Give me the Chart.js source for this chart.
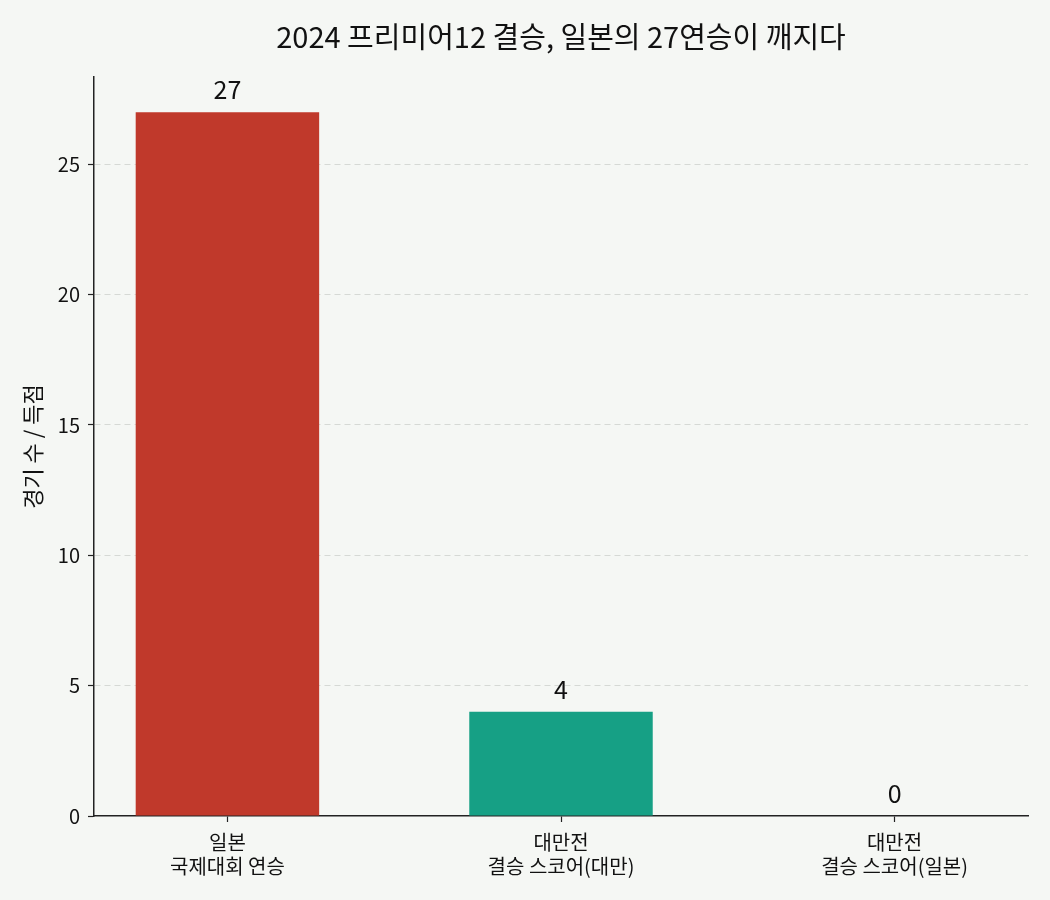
<!DOCTYPE html>
<html>
<head>
<meta charset="utf-8">
<script src="https://cdn.jsdelivr.net/npm/chart.js@4"></script>
<style>
  html, body { margin: 0; padding: 0; background: #f5f7f4; }
  #wrap { width: 1050px; height: 900px; }
</style>
</head>
<body>
<div id="wrap"><canvas id="chart"></canvas></div>
<script>
const categories = [
    ['일본', '국제대회 연승'],
    ['대만전', '결승 스코어(대만)'],
    ['대만전', '결승 스코어(일본)']
];
const values = [27, 4, 0];
const barColors = ['#c0392b', '#16a085', '#2c3e50'];
const yTicks = [0, 5, 10, 15, 20, 25];
const chartTitle = '2024 프리미어12 결승, 일본의 27연승이 깨지다';

const FONT = '"Noto Sans CJK KR", "Noto Sans", sans-serif';

// paint the page background
const bgPlugin = {
    id: 'bg',
    beforeDraw(chart) {
        const ctx = chart.ctx;
        ctx.save();
        ctx.fillStyle = '#f5f7f4';
        ctx.fillRect(0, 0, chart.width, chart.height);
        ctx.restore();
    }
};

// title centred over the plot area (like matplotlib)
const axesTitle = {
    id: 'axesTitle',
    afterDraw(chart) {
        const ctx = chart.ctx;
        const area = chart.chartArea;
        ctx.save();
        ctx.font = '29px ' + FONT;
        ctx.fillStyle = '#111';
        ctx.textAlign = 'center';
        ctx.textBaseline = 'middle';
        ctx.fillText(chartTitle, (area.left + area.right) / 2, 37);
        ctx.restore();
    }
};

// value labels above each bar
const valueLabels = {
    id: 'valueLabels',
    afterDatasetsDraw(chart) {
        const ctx = chart.ctx;
        const meta = chart.getDatasetMeta(0);
        ctx.save();
        ctx.font = '25px ' + FONT;
        ctx.fillStyle = '#111';
        ctx.textAlign = 'center';
        ctx.textBaseline = 'bottom';
        meta.data.forEach((bar, i) => {
            ctx.fillText(String(values[i]), bar.x, bar.y - 10);
        });
        ctx.restore();
    }
};

new Chart(document.getElementById('chart').getContext('2d'), {
    type: 'bar',
    data: {
        datasets: [{
            data: values.map((v, i) => ({ x: i, y: v })),
            backgroundColor: barColors,
            borderWidth: 0,
            categoryPercentage: 1,
            barPercentage: 0.55
        }]
    },
    options: {
        responsive: true,
        maintainAspectRatio: false,
        animation: false,
        layout: { padding: { left: 0, right: 22, top: 77, bottom: 0 } },
        plugins: {
            legend: { display: false },
            tooltip: { enabled: false },
            title: { display: false }
        },
        scales: {
            x: {
                type: 'linear',
                min: -0.4,
                max: 2.4,
                offset: false,
                afterBuildTicks: (scale) => { scale.ticks = categories.map((c, i) => ({ value: i })); },
                afterFit: (scale) => { scale.height = 84; },
                grid: {
                    offset: false,
                    drawOnChartArea: false,
                    drawTicks: true,
                    tickLength: 6,
                    tickColor: '#222',
                    tickWidth: 1.2
                },
                border: { display: true, color: '#222', width: 1.5 },
                ticks: {
                    color: '#111',
                    padding: 8,
                    font: { family: FONT, size: 20 },
                    callback: (v) => categories[v]
                }
            },
            y: {
                min: 0,
                max: 28.35,
                afterBuildTicks: (scale) => { scale.ticks = yTicks.map(v => ({ value: v })); },
                afterFit: (scale) => { scale.width = 94; },
                grid: {
                    color: (c) => c.tick && c.tick.value === 0 ? 'rgba(0,0,0,0)' : '#d6d9d5',
                    lineWidth: 1,
                    drawTicks: true,
                    tickLength: 6,
                    tickColor: '#222',
                    tickWidth: 1.2,
                    tickBorderDash: []
                },
                border: { display: true, color: '#222', width: 1.5, dash: [6, 4] },
                ticks: {
                    color: '#111',
                    padding: 8,
                    font: { family: FONT, size: 20 }
                },
                title: {
                    display: true,
                    text: '경기 수 / 득점',
                    color: '#111',
                    font: { family: FONT, size: 22 },
                    padding: { top: 19, bottom: 0 }
                }
            }
        }
    },
    plugins: [bgPlugin, axesTitle, valueLabels]
});
</script>
</body>
</html>
